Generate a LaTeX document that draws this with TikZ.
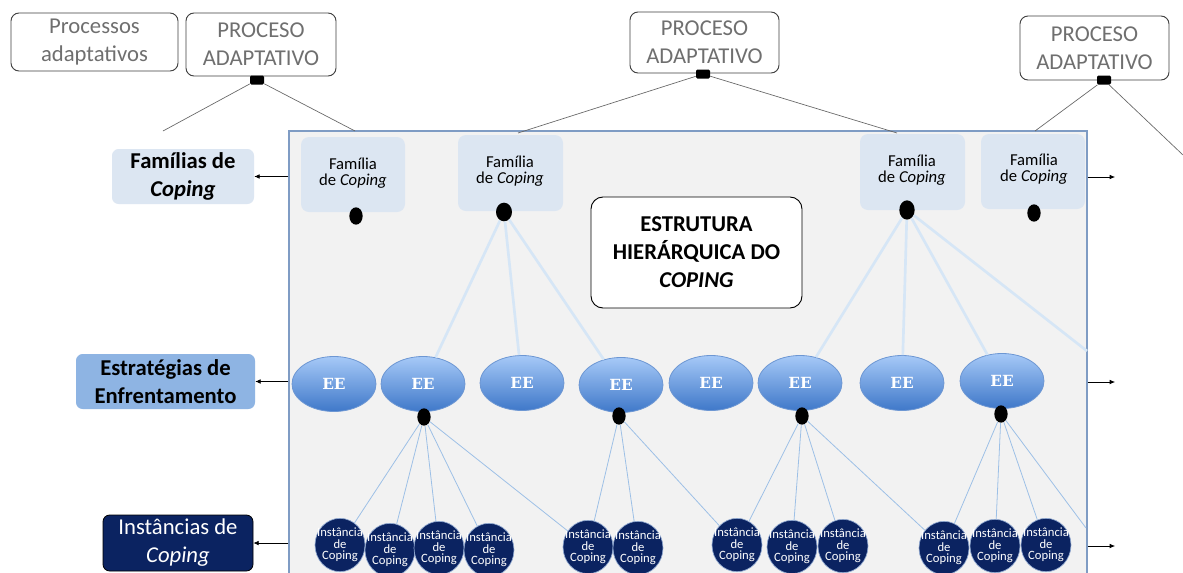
\documentclass[tikz,border=0pt]{standalone}
\usepackage{fontspec}
\setmainfont{Carlito}
\newfontfamily\eefont{DejaVu Serif}
\usetikzlibrary{shapes.geometric,arrows.meta}
\newcommand\zb[1]{\makebox[0pt]{#1}}
\newcommand\instlbl{\zb{Instância}\\\zb{de}\\\zb{Coping}}
\definecolor{procgray}{HTML}{6F6F6F}
\definecolor{famfill}{HTML}{DCE6F2}
\definecolor{estfill}{HTML}{8EB4E3}
\definecolor{navy}{HTML}{0B2361}
\definecolor{panelfill}{HTML}{F2F2F2}
\definecolor{panelline}{HTML}{7F9CC4}
\definecolor{lightline}{HTML}{D6E6F6}
\definecolor{thinline}{HTML}{9DC0E6}
\definecolor{eetop}{HTML}{A6C9F7}
\definecolor{eebot}{HTML}{3F78C9}
\definecolor{eeline}{HTML}{6D97D3}
\definecolor{instline}{HTML}{8FA8D0}
\begin{document}
\begin{tikzpicture}[x=0.75pt,y=-0.75pt,
  bigfont/.style={font=\fontsize{17}{21}\selectfont},
  procbox/.style={draw=black!75,line width=0.7pt,fill=white,rounded corners=6pt,
    inner sep=0pt,align=center,text=procgray,bigfont},
  sqmark/.style={fill=black,rounded corners=1pt,minimum width=10.5pt,minimum height=6.75pt,inner sep=0pt},
  lablbox/.style={rounded corners=5pt,inner sep=0pt,align=center,bigfont},
  fambox/.style={fill=famfill,rounded corners=6pt,inner sep=0pt},
  famtext/.style={align=center,font=\fontsize{12.5}{12}\selectfont,inner sep=0pt},
  blackdot/.style={ellipse,fill=black,inner sep=0pt,minimum width=10pt,minimum height=13pt},
  eenode/.style={ellipse,draw=eeline,line width=0.6pt,top color=eetop,bottom color=eebot,
    minimum width=63pt,minimum height=41.25pt,inner sep=0pt,text=white,
    font=\eefont\bfseries\fontsize{11.5}{12}\selectfont},
  instnode/.style={ellipse,draw=instline,line width=0.5pt,fill=navy,
    minimum width=37.5pt,minimum height=40pt,inner sep=0pt,text=white,align=center,
    font=\fontsize{9.5}{8.7}\selectfont},
  procline/.style={draw=black!60,line width=0.5pt},
  lightconn/.style={draw=lightline,line width=2pt},
  thinconn/.style={draw=thinline,line width=0.6pt},
  sidearrow/.style={draw=black,line width=0.5pt,-{Latex[length=4pt,width=3.5pt]}}
]
\clip (0,0) rectangle (1183,572);
\fill[white] (0,0) rectangle (1183,572);

% panel
\node[draw=panelline,line width=0.8pt,fill=panelfill,minimum width=598.5pt,minimum height=343.5pt,inner sep=0pt] (panel) at (688,360) {};

% process boxes
\node[procbox,minimum width=125.25pt,minimum height=43.5pt] (proc0) at (94.5,42) {Processos\\adaptativos};
\node[procbox,minimum width=112.5pt,minimum height=47.25pt] (proc1) at (261,44.5) {PROCESO\\ADAPTATIVO};
\node[procbox,minimum width=111.75pt,minimum height=45.75pt] (proc2) at (704.5,42.5) {PROCESO\\ADAPTATIVO};
\node[procbox,minimum width=111.75pt,minimum height=48pt] (proc3) at (1094.5,48) {PROCESO\\ADAPTATIVO};
\node[sqmark] (sq1) at (257,80) {};
\node[sqmark] (sq2) at (703,74) {};
\node[sqmark] (sq3) at (1104,80) {};

\coordinate (pa) at (163,131);
\coordinate (pb) at (355,131);
\coordinate (pc) at (518,133);
\coordinate (pd) at (897,133);
\coordinate (pe) at (1035,131);
\coordinate (pf) at (1183,155);
\draw[procline] (sq1) -- (pa);
\draw[procline] (sq1) -- (pb);
\draw[procline] (sq2) -- (pc);
\draw[procline] (sq2) -- (pd);
\draw[procline] (sq3) -- (pe);
\draw[procline] (sq3) -- (pf);

% left labels
\node[lablbox,fill=famfill,minimum width=106.5pt,minimum height=41.25pt] (famlab) at (183,176.5) {\textbf{Famílias de}\\\textbf{\textit{Coping}}};
\node[lablbox,fill=estfill,minimum width=134.25pt,minimum height=41.25pt] (estlab) at (165.5,381.5) {\textbf{Estratégias de}\\\textbf{Enfrentamento}};
\node[lablbox,draw=black,line width=0.6pt,fill=navy,text=white,minimum width=112.5pt,minimum height=42pt] (instlab) at (178,543) {Instâncias de\\\textit{Coping}};

\draw[sidearrow] (panel.west |- famlab) -- (famlab.east);
\draw[sidearrow] (panel.west |- estlab) -- (estlab.east);
\draw[sidearrow] (panel.west |- instlab) -- (instlab.east);
\coordinate (ra1) at (1115,177);
\coordinate (ra2) at (1115,382);
\coordinate (ra3) at (1115,546);
\draw[sidearrow] (panel.east |- ra1) -- (ra1);
\draw[sidearrow] (panel.east |- ra2) -- (ra2);
\draw[sidearrow] (panel.east |- ra3) -- (ra3);

% family boxes
\node[fambox,minimum width=78pt,minimum height=56.25pt] (fam1) at (353,174.5) {};
\node[fambox,minimum width=78.75pt,minimum height=57pt] (fam2) at (510.5,173) {};
\node[fambox,minimum width=78.75pt,minimum height=57pt] (fam3) at (912.5,172) {};
\node[fambox,minimum width=78pt,minimum height=56.25pt] (fam4) at (1033,171.5) {};
\node[famtext] (ft1) at (353,173) {Família\\de \textit{Coping}};
\node[famtext] (ft2) at (510,171.5) {Família\\de \textit{Coping}};
\node[famtext] (ft3) at (912,170) {Família\\de \textit{Coping}};
\node[famtext] (ft4) at (1034,169.5) {Família\\de \textit{Coping}};

% structure box
\node[draw=black,line width=0.7pt,fill=white,rounded corners=9pt,minimum width=158.25pt,minimum height=83.25pt,
  inner sep=0pt,align=center,bigfont] (estr) at (696.5,252.5)
  {\textbf{ESTRUTURA}\\\textbf{HIERÁRQUICA DO}\\\textbf{\textit{COPING}}};

% EE nodes
\node[eenode] (ee1) at (334,384) {EE};
\node[eenode] (ee2) at (423,384) {EE};
\node[eenode] (ee3) at (522,383) {EE};
\node[eenode] (ee4) at (621,385) {EE};
\node[eenode] (ee5) at (711,383) {EE};
\node[eenode] (ee6) at (800,383) {EE};
\node[eenode] (ee7) at (902,383) {EE};
\node[eenode] (ee8) at (1002,381) {EE};

% family dots
\node[blackdot] (fd1) at (356,216) {};
\node[blackdot,minimum width=12pt,minimum height=14pt] (fd2) at (504,212) {};
\node[blackdot,minimum width=11.5pt,minimum height=14.5pt] (fd3) at (907,210) {};
\node[blackdot] (fd4) at (1034,213) {};

\coordinate (lr) at (1087,351);
\draw[lightconn] (fd2) -- (ee2);
\draw[lightconn] (fd2) -- (ee3);
\draw[lightconn] (fd2) -- (ee4);
\draw[lightconn] (fd3) -- (ee6);
\draw[lightconn] (fd3) -- (ee7);
\draw[lightconn] (fd3) -- (ee8);
\draw[lightconn] (fd3) -- (lr);

% instance nodes
\node[instnode] (i1) at (340,545) {\instlbl};
\node[instnode] (i2) at (390,550) {\instlbl};
\node[instnode] (i3) at (439,548) {\instlbl};
\node[instnode] (i4) at (489,550) {\instlbl};
\node[instnode] (i5) at (588,547) {\instlbl};
\node[instnode] (i6) at (638,548) {\instlbl};
\node[instnode] (i7) at (737,545) {\instlbl};
\node[instnode] (i8) at (792,547) {\instlbl};
\node[instnode] (i9) at (843,546) {\instlbl};
\node[instnode] (i10) at (944,548) {\instlbl};
\node[instnode] (i11) at (995,546) {\instlbl};
\node[instnode] (i12) at (1046,545) {\instlbl};

% EE dots
\node[blackdot] (ed2) at (424,417) {};
\node[blackdot] (ed4) at (619,416) {};
\node[blackdot] (ed6) at (802,416) {};
\node[blackdot] (ed8) at (1001,414) {};

\coordinate (tr) at (1086,528);
\foreach \t in {i1,i2,i3,i4,i5} \draw[thinconn] (ed2) -- (\t);
\foreach \t in {i5,i6,i7} \draw[thinconn] (ed4) -- (\t);
\foreach \t in {i7,i8,i9,i10} \draw[thinconn] (ed6) -- (\t);
\foreach \t in {i10,i11,i12} \draw[thinconn] (ed8) -- (\t);
\draw[thinconn] (ed8) -- (tr);
\end{tikzpicture}
\end{document}
